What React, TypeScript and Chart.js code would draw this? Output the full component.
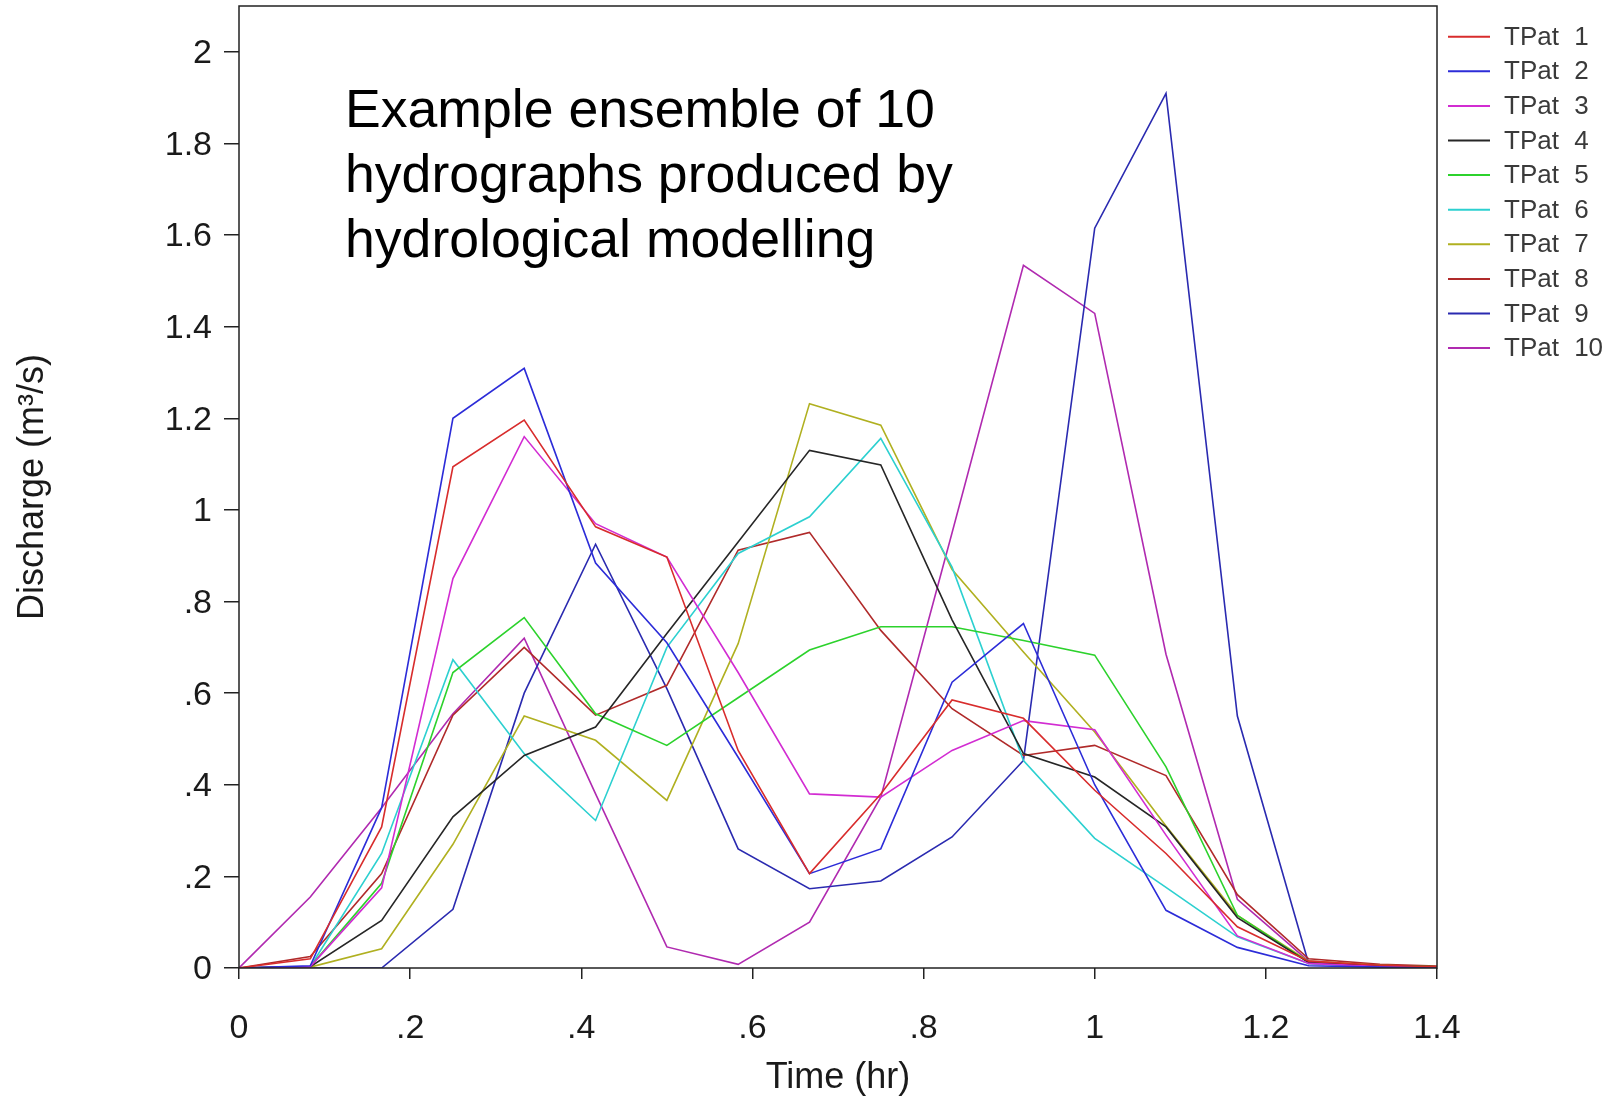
import React, { useEffect, useRef } from 'react';
import { Chart, registerables } from 'chart.js';

Chart.register(...registerables);

// ---- data ----
const timeHours = [0, 0.0833, 0.1667, 0.25, 0.3333, 0.4167, 0.5, 0.5833, 0.6667, 0.75, 0.8333, 0.9167, 1.0, 1.0833, 1.1667, 1.25, 1.3333, 1.4167];

const seriesNames = ['TPat 1', 'TPat 2', 'TPat 3', 'TPat 4', 'TPat 5', 'TPat 6', 'TPat 7', 'TPat 8', 'TPat 9', 'TPat 10'];
const seriesColors = ['#d82c2c', '#2c2cd8', '#d22cd2', '#262626', '#2cd22c', '#2cd0d0', '#b0b020', '#b02a2a', '#2a2ab0', '#b02ab0'];

const tpat1 = [0, 0.02, 0.308, 1.094, 1.196, 0.963, 0.897, 0.475, 0.206, 0.38, 0.585, 0.545, 0.388, 0.25, 0.09, 0.015, 0.006, 0.002];
const tpat2 = [0, 0.005, 0.35, 1.2, 1.309, 0.884, 0.71, 0.46, 0.206, 0.26, 0.624, 0.752, 0.4, 0.126, 0.045, 0.005, 0.002, 0.001];
const tpat3 = [0, 0.003, 0.175, 0.85, 1.16, 0.97, 0.897, 0.645, 0.38, 0.373, 0.475, 0.54, 0.52, 0.29, 0.07, 0.01, 0.003, 0.001];
const tpat4 = [0, 0.003, 0.104, 0.33, 0.464, 0.526, 0.73, 0.93, 1.13, 1.098, 0.76, 0.468, 0.417, 0.308, 0.11, 0.012, 0.005, 0.002];
const tpat5 = [0, 0.003, 0.185, 0.645, 0.765, 0.555, 0.486, 0.59, 0.694, 0.745, 0.745, 0.715, 0.683, 0.439, 0.115, 0.012, 0.005, 0.002];
const tpat6 = [0, 0.003, 0.25, 0.673, 0.468, 0.322, 0.7, 0.905, 0.985, 1.156, 0.875, 0.453, 0.283, 0.176, 0.068, 0.01, 0.004, 0.001];
const tpat7 = [0, 0.002, 0.042, 0.27, 0.55, 0.497, 0.366, 0.708, 1.232, 1.185, 0.87, 0.69, 0.515, 0.31, 0.115, 0.015, 0.006, 0.002];
const tpat8 = [0, 0.025, 0.206, 0.552, 0.7, 0.552, 0.617, 0.912, 0.951, 0.737, 0.566, 0.464, 0.486, 0.42, 0.16, 0.02, 0.008, 0.003];
const tpat9 = [0, 0, 0, 0.128, 0.6, 0.925, 0.61, 0.26, 0.173, 0.19, 0.286, 0.453, 1.615, 1.909, 0.55, 0.01, 0.004, 0.001];
const tpat10 = [0, 0.155, 0.35, 0.555, 0.72, 0.38, 0.046, 0.008, 0.1, 0.373, 0.95, 1.534, 1.429, 0.685, 0.15, 0.015, 0.005, 0.002];

const seriesValues = [tpat1, tpat2, tpat3, tpat4, tpat5, tpat6, tpat7, tpat8, tpat9, tpat10];

const yTickValues = [0, 0.2, 0.4, 0.6, 0.8, 1, 1.2, 1.4, 1.6, 1.8, 2];
const xTickValues = [0, 0.2, 0.4, 0.6, 0.8, 1, 1.2, 1.4];

const xAxisTitle = 'Time (hr)';
const yAxisTitle = 'Discharge (m³/s)';
const annotationLines = ['Example ensemble of 10', 'hydrographs produced by', 'hydrological modelling'];

const FONT = '"Liberation Sans", Arial, Helvetica, sans-serif';
const W = 1621;
const H = 1098;

function fmtTick(v: number): string {
  const r = Math.round(v * 10) / 10;
  if (r === 0) return '0';
  const s = String(r);
  return s.startsWith('0.') ? s.slice(1) : s;
}

const framePlugin = {
  id: 'frameAndExtras',
  afterDraw(chart: any) {
    const { ctx, chartArea } = chart;
    ctx.save();
    // frame
    ctx.strokeStyle = '#222';
    ctx.lineWidth = 1.5;
    ctx.strokeRect(chartArea.left, chartArea.top, chartArea.right - chartArea.left, chartArea.bottom - chartArea.top);

    // annotation text
    ctx.fillStyle = '#000';
    ctx.font = `53.6px ${FONT}`;
    ctx.textAlign = 'left';
    ctx.textBaseline = 'alphabetic';
    const baselines = [127, 192, 256.5];
    annotationLines.forEach((t, i) => ctx.fillText(t, 345, baselines[i]));

    // legend
    ctx.font = `26px ${FONT}`;
    ctx.textBaseline = 'middle';
    try { (ctx as any).wordSpacing = '8px'; } catch (e) {}
    seriesNames.forEach((name, i) => {
      const y = 36.7 + i * 34.6;
      ctx.strokeStyle = seriesColors[i];
      ctx.lineWidth = 2;
      ctx.beginPath();
      ctx.moveTo(1448, y);
      ctx.lineTo(1490, y);
      ctx.stroke();
      ctx.fillStyle = '#3a3a3a';
      ctx.fillText(name, 1504, y + 1);
    });
    try { (ctx as any).wordSpacing = '0px'; } catch (e) {}
    ctx.restore();
  },
};

export default function App() {
  const canvasRef = useRef<HTMLCanvasElement | null>(null);

  useEffect(() => {
    const canvas = canvasRef.current;
    if (!canvas) return;
    Chart.defaults.font.family = FONT;

    const datasets = seriesNames.map((name, i) => ({
      label: name,
      data: timeHours.map((t, k) => ({ x: t, y: seriesValues[i][k] })),
      borderColor: seriesColors[i],
      backgroundColor: seriesColors[i],
      borderWidth: 1.6,
      pointRadius: 0,
      tension: 0,
      fill: false,
    }));

    const chart = new Chart(canvas, {
      type: 'line',
      data: { datasets },
      options: {
        responsive: false,
        animation: false,
        events: [],
        layout: { padding: { top: 6, right: 184, left: 0, bottom: 0 } },
        plugins: {
          legend: { display: false },
          tooltip: { enabled: false },
          title: { display: false },
        },
        scales: {
          x: {
            type: 'linear',
            min: 0,
            max: 1.4,
            afterBuildTicks: (scale: any) => {
              scale.ticks = xTickValues.map((v) => ({ value: v }));
            },
            afterFit: (scale: any) => {
              scale.height = H - 968;
              scale.paddingLeft = 0;
              scale.paddingRight = 0;
            },
            border: { display: false },
            grid: {
              display: true,
              drawOnChartArea: false,
              drawTicks: true,
              tickLength: 11,
              color: '#222',
              lineWidth: 1.5,
            },
            ticks: {
              autoSkip: false,
              maxRotation: 0,
              padding: 29,
              color: '#1a1a1a',
              font: { size: 34, family: FONT },
              callback: (v: any) => fmtTick(Number(v)),
            },
            title: {
              display: true,
              text: xAxisTitle,
              color: '#1a1a1a',
              font: { size: 36, family: FONT },
              padding: { top: 0, bottom: -2 },
            },
          },
          y: {
            type: 'linear',
            min: 0,
            max: 2.1,
            afterBuildTicks: (scale: any) => {
              scale.ticks = yTickValues.map((v) => ({ value: v }));
            },
            afterFit: (scale: any) => {
              scale.width = 239;
              scale.paddingTop = 0;
              scale.paddingBottom = 0;
            },
            border: { display: false },
            grid: {
              display: true,
              drawOnChartArea: false,
              drawTicks: true,
              tickLength: 15,
              color: '#222',
              lineWidth: 1.5,
            },
            ticks: {
              autoSkip: false,
              padding: 12,
              labelOffset: 2,
              color: '#1a1a1a',
              font: { size: 34, family: FONT },
              callback: (v: any) => fmtTick(Number(v)),
            },
            title: {
              display: true,
              text: yAxisTitle,
              color: '#1a1a1a',
              font: { size: 36, family: FONT },
              padding: { top: 11, bottom: 0 },
            },
          },
        },
      },
      plugins: [framePlugin],
    } as any);

    return () => chart.destroy();
  }, []);

  return (
    <div style={{ position: 'fixed', left: 0, top: 0, width: W, height: H, background: '#fff' }}>
      <canvas ref={canvasRef} width={W} height={H} style={{ display: 'block', width: W, height: H }} />
    </div>
  );
}
